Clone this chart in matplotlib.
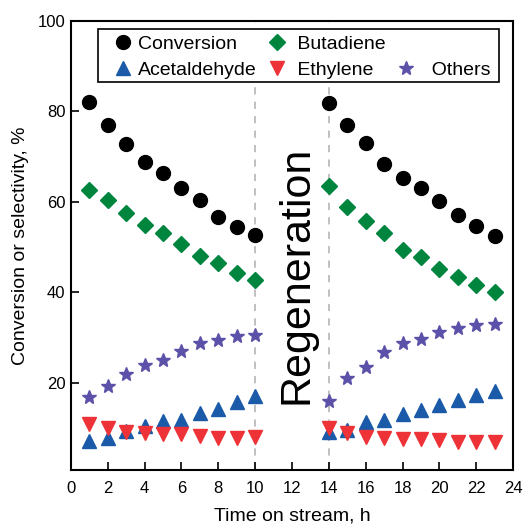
import matplotlib
matplotlib.use("Agg")
import matplotlib.pyplot as plt
from matplotlib.lines import Line2D
from matplotlib.patches import Rectangle

plt.rcParams['font.family'] = ['Liberation Sans', 'DejaVu Sans']

hours_a = [1, 2, 3, 4, 5, 6, 7, 8, 9, 10]
hours_b = [14, 15, 16, 17, 18, 19, 20, 21, 22, 23]
hours = hours_a + hours_b

conversion = [82.0, 77.0, 72.8, 68.8, 66.3, 63.0, 60.4, 56.6, 54.4, 52.7,
              81.9, 77.0, 73.0, 68.3, 65.4, 63.0, 60.2, 57.1, 54.7, 52.5]
butadiene = [62.7, 60.4, 57.6, 54.9, 53.1, 50.7, 48.1, 46.6, 44.4, 42.8,
             63.5, 59.0, 55.8, 53.1, 49.5, 47.9, 45.1, 43.4, 41.6, 40.2]
acetaldehyde = [7.2, 7.8, 9.5, 10.5, 11.6, 11.9, 13.3, 14.3, 15.8, 17.1,
                9.2, 9.6, 11.4, 11.9, 13.2, 14.0, 15.1, 16.3, 17.3, 18.2]
ethylene = [11.0, 10.0, 9.1, 9.0, 8.8, 8.8, 8.2, 7.9, 7.9, 8.1,
            10.0, 8.9, 8.1, 7.8, 7.6, 7.6, 7.3, 7.0, 7.0, 7.0]
others = [16.8, 19.3, 22.0, 24.0, 25.1, 27.1, 28.8, 29.5, 30.4, 30.5,
          16.1, 21.2, 23.6, 26.8, 28.8, 29.7, 31.3, 32.1, 32.8, 33.0]

regen_lines = [10, 14]
x_ticks = list(range(0, 25, 2))
y_ticks = [20, 40, 60, 80, 100]

fig = plt.figure(figsize=(5.29, 5.25), dpi=100)
ax = fig.add_axes([0.134, 0.105, 0.836, 0.855])

for xv in regen_lines:
    ax.axvline(xv, color='#bbbbbb', linestyle=(0, (4, 4)), linewidth=1.3, zorder=1)

ms = 10
h_conv, = ax.plot(hours, conversion, 'o', color='black', markersize=ms, linestyle='none', zorder=3)
h_but, = ax.plot(hours, butadiene, 'D', color='#00853f', markersize=ms*0.85, linestyle='none', zorder=3)
h_ace, = ax.plot(hours, acetaldehyde, '^', color='#1a5aa8', markersize=ms*1.05, linestyle='none', zorder=3)
h_eth, = ax.plot(hours, ethylene, 'v', color='#ee3338', markersize=ms*1.05, linestyle='none', zorder=4)
h_oth, = ax.plot(hours, others, '*', color='#5b51a8', markersize=ms*1.05, linestyle='none', zorder=3)

ax.text(12.25, 44, 'Regeneration', rotation=90, fontsize=31, ha='center', va='center', zorder=5)

ax.set_xlim(0, 24)
ax.set_ylim(0.8, 100)
ax.set_xticks(x_ticks)
ax.set_yticks(y_ticks)
ax.tick_params(direction='in', length=6, width=1.2, labelsize=12, top=False, right=False)
ax.tick_params(axis='x', pad=8)
ax.tick_params(axis='y', pad=4)
for s in ax.spines.values():
    s.set_linewidth(1.5)

ax.set_xlabel('Time on stream, h', fontsize=14, labelpad=8)
ax.set_ylabel('Conversion or selectivity, %', fontsize=14, labelpad=6)

# legend frame
ax.add_patch(Rectangle((0.061, 0.864), 0.907, 0.118, transform=ax.transAxes,
                       facecolor='white', edgecolor='black', linewidth=1.2, zorder=6))

blank = Line2D([], [], linestyle='none', marker='none')
handles = [h_conv, h_ace, h_but, h_eth, blank, h_oth]
labels = ['Conversion', 'Acetaldehyde', ' Butadiene', ' Ethylene', '', '  Others']
leg = ax.legend(handles, labels, ncol=3, loc='upper left',
                bbox_to_anchor=(0.0914, 0.969),
                fontsize=14, frameon=False,
                handletextpad=0.17, columnspacing=0.45, borderpad=0,
                labelspacing=0.45, handlelength=1.2, borderaxespad=0)
leg.set_zorder(7)

fig.savefig('out.png', dpi=100)
